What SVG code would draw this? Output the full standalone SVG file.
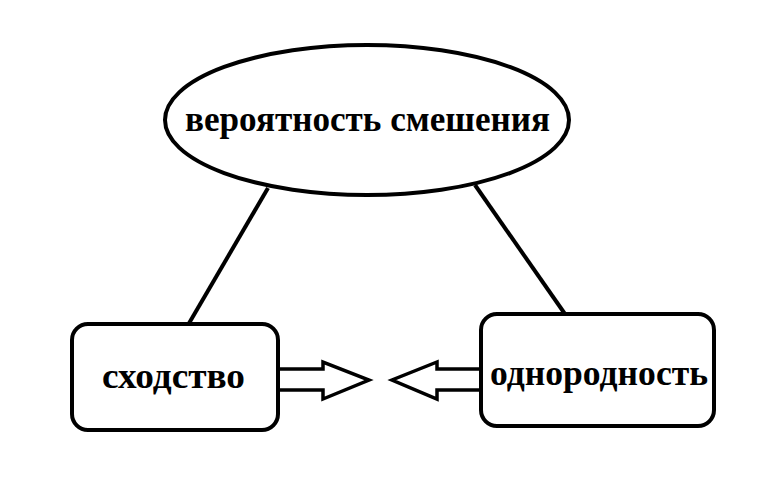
<svg xmlns="http://www.w3.org/2000/svg" width="777" height="488" viewBox="0 0 777 488">
<style>
.s{fill:#fff;stroke:#000;stroke-width:4}
.l{fill:none;stroke:#000;stroke-width:4}
.a{fill:#fff;stroke:#000;stroke-width:3.5;stroke-linejoin:miter}
.t{font-family:"Liberation Serif","Times New Roman",serif;font-weight:bold;font-size:36px;fill:#000}
</style>
<rect width="777" height="488" fill="#fff"/>
<g id="connectors">
<line class="l" x1="268" y1="188" x2="188" y2="325"/>
<line class="l" x1="475" y1="185" x2="565" y2="314"/>
<path class="a" d="M279,369 H323 V362 L369,380 L323,399 V390 H279"/>
<path class="a" d="M481,369 H437 V362 L392,380 L437,399 V390 H481"/>
</g>
<g id="n1">
<ellipse class="s" cx="367" cy="120" rx="202" ry="75"/>
<text class="t" x="185" y="131" textLength="365" lengthAdjust="spacingAndGlyphs">вероятность смешения</text>
</g>
<g id="n2">
<rect class="s" x="72" y="324" width="206" height="106" rx="16"/>
<text class="t" x="102" y="388" textLength="143" lengthAdjust="spacingAndGlyphs">сходство</text>
</g>
<g id="n3">
<rect class="s" x="481" y="314" width="233" height="112" rx="16"/>
<text class="t" x="490" y="385" textLength="218" lengthAdjust="spacingAndGlyphs">однородность</text>
</g>
</svg>
